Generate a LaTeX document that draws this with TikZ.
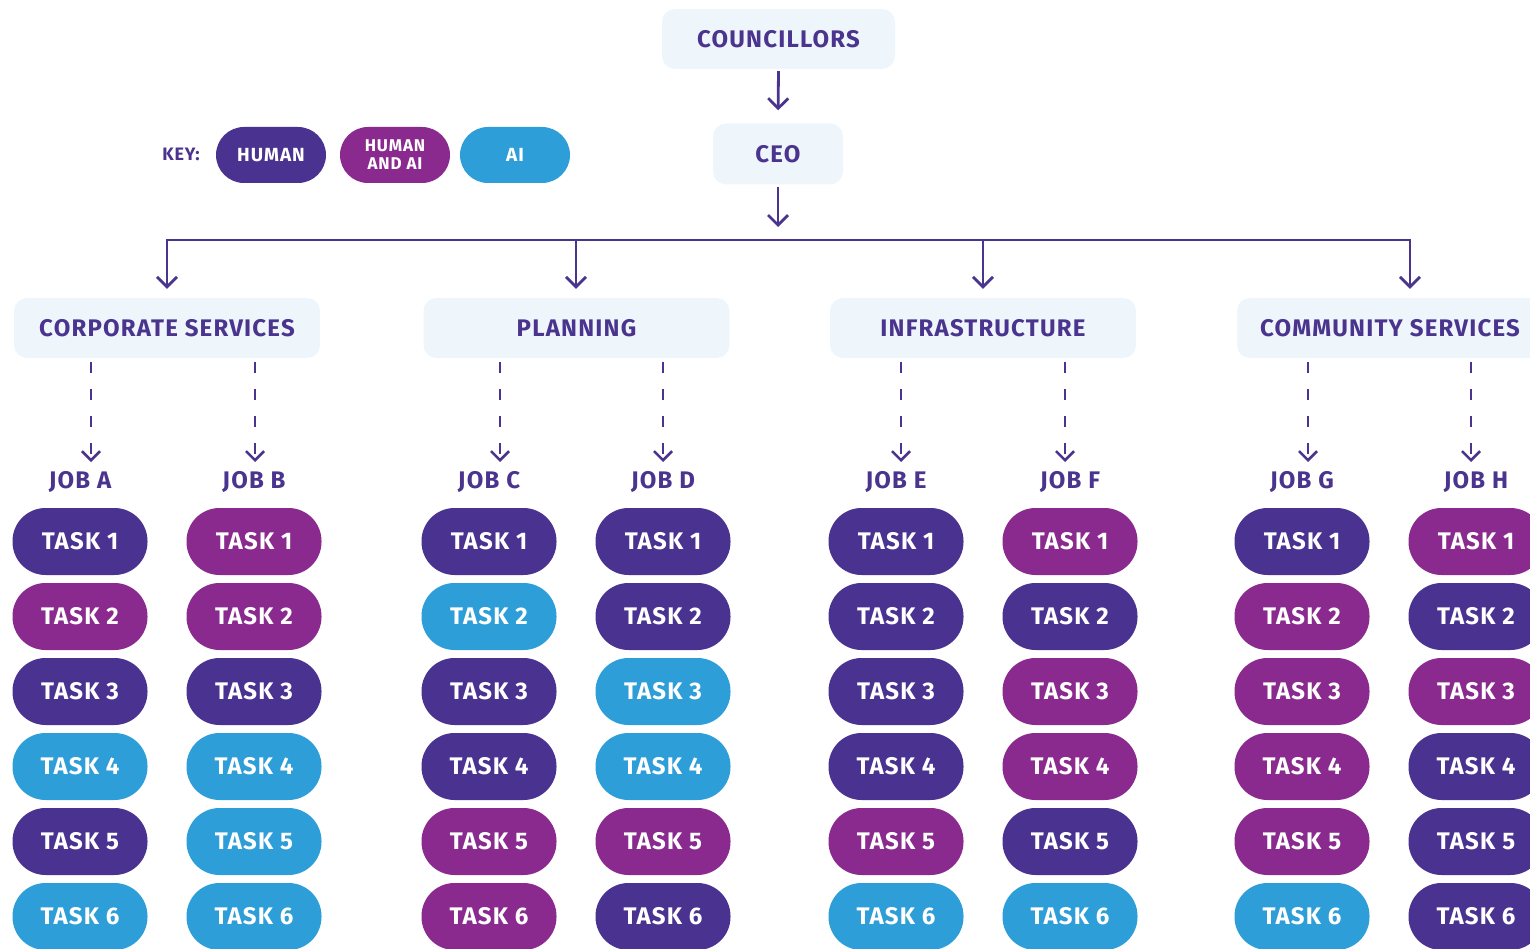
\documentclass[tikz,border=0pt]{standalone}
\usepackage{fontspec}
\setmainfont{Fira Sans}[LetterSpace=5]
\usetikzlibrary{arrows.meta}
\definecolor{hum}{RGB}{74,50,145}
\definecolor{hai}{RGB}{138,42,142}
\definecolor{aic}{RGB}{46,158,216}
\definecolor{ink}{RGB}{74,52,142}
\definecolor{pale}{RGB}{238,246,252}
\begin{document}
\begin{tikzpicture}[x=1pt,y=-1pt,
  hbox/.style={fill=pale, rounded corners=13pt, text=ink, inner sep=0pt,
    font=\bfseries\fontsize{24}{27}\selectfont},
  pill/.style={rounded corners=33pt, minimum width=135pt, minimum height=67pt,
    text=white, inner sep=0pt, font=\bfseries\fontsize{24}{27}\selectfont},
  keypill/.style={rounded corners=28pt, minimum width=110pt, minimum height=56pt,
    text=white, inner sep=0pt, align=center},
  joblab/.style={text=ink, inner sep=0pt, font=\bfseries\fontsize{24}{27}\selectfont},
  conn/.style={draw=ink, line width=2.8pt, -{Straight Barb[length=10pt,width=20pt,line width=2.8pt]}},
  dconn/.style={draw=ink, line width=2.6pt, dash pattern=on 11pt off 16pt,
    -{Straight Barb[length=9pt,width=18pt,line width=2.6pt]}},
  busline/.style={draw=ink, line width=2.8pt, line cap=rect}
]
\useasboundingbox (0,0) rectangle (1530,949);

% top
\node[hbox, minimum width=233pt, minimum height=60pt] (coun) at (778.5,39) {COUNCILLORS};
\node[hbox, minimum width=130pt, minimum height=61pt] (ceo) at (778,154) {CEO};
\draw[conn, shorten <=2pt, shorten >=13pt] (coun.south) -- (ceo.north);

% key
\node[text=ink, inner sep=0pt, font=\bfseries\fontsize{18}{20}\selectfont] (keylab) at (181,154) {KEY:};
\node[keypill, fill=hum, font=\bfseries\fontsize{19}{21}\selectfont] (khum) at (271,155) {HUMAN};
\node[keypill, fill=hai, font=\bfseries\fontsize{17}{19}\selectfont] (khai) at (395,155) {HUMAN\\[-1pt]AND AI};
\node[keypill, fill=aic, font=\bfseries\fontsize{19}{21}\selectfont] (kai) at (515,155) {AI};

% departments
\node[hbox, minimum width=306pt, minimum height=60pt] (corp) at (167,328) {CORPORATE SERVICES};
\node[hbox, minimum width=306pt, minimum height=60pt] (plan) at (576.5,328) {PLANNING};
\node[hbox, minimum width=306pt, minimum height=60pt] (infra) at (983,328) {INFRASTRUCTURE};
\node[hbox, minimum width=306pt, minimum height=60pt] (comm) at (1390,328) {COMMUNITY SERVICES};

% bus
\coordinate (bus) at (778,240);
\coordinate (b1) at (167,240);
\coordinate (b2) at (576,240);
\coordinate (b3) at (983,240);
\coordinate (b4) at (1410,240);
\draw[conn, shorten <=2pt, shorten >=13pt] (ceo.south) -- (bus);
\draw[busline] (b1) -- (b4);
\draw[conn, shorten >=9pt] (b1) -- (corp.north -| b1);
\draw[conn, shorten >=9pt] (b2) -- (plan.north -| b2);
\draw[conn, shorten >=9pt] (b3) -- (infra.north -| b3);
\draw[conn, shorten >=9pt] (b4) -- (comm.north -| b4);

% jobs
\foreach \j/\jx/\ax/\dep in {A/80/91/corp, B/254/255/corp, C/489/500/plan, D/663/663/plan,
    E/896/901/infra, F/1070/1065/infra, G/1302/1308/comm, H/1476/1471/comm}{
  \node[joblab] (job\j) at (\jx,482) {JOB \j};
  \coordinate (tip\j) at (\ax,462);
  \draw[dconn, shorten <=4pt] (\dep.south -| tip\j) -- (tip\j);
}

% tasks
\foreach \col/\cx/\cols in {
    A/80/{hum,hai,hum,aic,hum,aic},
    B/254/{hai,hai,hum,aic,aic,aic},
    C/489/{hum,aic,hum,hum,hai,hai},
    D/663/{hum,hum,aic,aic,hai,hum},
    E/896/{hum,hum,hum,hum,hai,aic},
    F/1070/{hai,hum,hai,hai,hum,aic},
    G/1302/{hum,hai,hai,hai,hai,aic},
    H/1476/{hai,hum,hai,hum,hum,hum}}{
  \foreach \c [count=\i] in \cols {
    \node[pill, fill=\c] (t\col\i) at (\cx,{466.5+75*\i}) {TASK \i};
  }
}
\end{tikzpicture}
\end{document}
